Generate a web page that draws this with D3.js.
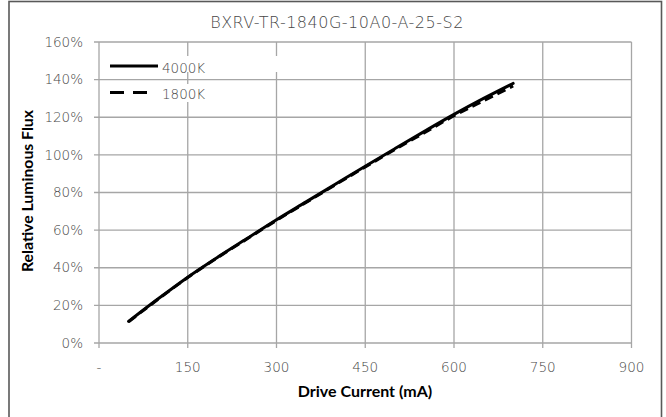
<!DOCTYPE html>
<html><head><meta charset="utf-8">
<script src="https://cdn.jsdelivr.net/npm/d3@7"></script>
<style>body{margin:0;background:#fff}svg{display:block}</style>
</head><body><svg id="c" width="666" height="417"></svg>
<script>
const title = "BXRV-TR-1840G-10A0-A-25-S2";
const current = [50,100,150,200,250,300,350,400,450,500,550,600,650,700];
const flux4000 = [11.5,23.5,35,45.5,55.5,65.5,75,84.5,94,103.3,112.5,121.5,130,138];
const flux1800 = [11.3,23.3,34.8,45.3,55.3,65.2,74.7,84.2,93.6,102.8,111.8,120.8,128.8,136.6];
const xTicks = [0,150,300,450,600,750,900];
const yTicks = [0,20,40,60,80,100,120,140,160];
const seriesNames = ["4000K","1800K"];

const svg = d3.select("#c");
const x = d3.scaleLinear().domain([0,900]).range([99,631.5]);
const y = d3.scaleLinear().domain([0,160]).range([343,42]);
const grid = "#a6a6a6", txt = "#474747";
const tickFont = "'DejaVu Sans', sans-serif";
const tickW = 200;

svg.append("rect").attr("x",9).attr("y",1.5).attr("width",652.5).attr("height",440)
  .attr("fill","#fff").attr("stroke","#595959").attr("stroke-width",1.6);

// gridlines
svg.append("g").selectAll("line").data(yTicks).join("line")
  .attr("x1",x(0)-5).attr("x2",x(900)).attr("y1",d=>y(d)).attr("y2",d=>y(d))
  .attr("stroke",grid).attr("stroke-width",1.3);
svg.append("g").selectAll("line").data(xTicks).join("line")
  .attr("x1",d=>x(d)).attr("x2",d=>x(d)).attr("y1",y(160)).attr("y2",y(0)+5)
  .attr("stroke",grid).attr("stroke-width",1.3);

// tick labels
svg.append("g").selectAll("text").data(yTicks).join("text")
  .attr("x",83).attr("y",d=>y(d)).attr("dy","0.35em").attr("text-anchor","end")
  .attr("font-family",tickFont).attr("font-size",13.5).attr("font-weight",tickW).attr("fill",txt)
  .text(d=>d+"%");
svg.append("g").selectAll("text").data(xTicks).join("text")
  .attr("x",d=>x(d)).attr("y",367).attr("dy","0.35em").attr("text-anchor","middle")
  .attr("font-family",tickFont).attr("font-size",13.5).attr("font-weight",tickW).attr("fill",txt)
  .text(d=>d===0?"-":d);

// title & axis titles
svg.append("text").attr("x",337).attr("y",22).attr("dy","0.35em").attr("text-anchor","middle")
  .attr("font-family",tickFont).attr("font-size",16).attr("font-weight",tickW).attr("letter-spacing",0.5)
  .attr("fill",txt).text(title);
svg.append("text").attr("x",365).attr("y",391).attr("dy","0.35em").attr("text-anchor","middle")
  .attr("font-family","Lato, sans-serif").attr("font-size",16).attr("font-weight",700).attr("fill","#000")
  .text("Drive Current (mA)");
svg.append("text").attr("transform","translate(27,191) rotate(-90)").attr("dy","0.35em").attr("text-anchor","middle")
  .attr("font-family","Lato, sans-serif").attr("font-size",15.8).attr("font-weight",700).attr("fill","#000")
  .text("Relative Luminous Flux");

// lines
const line = d3.line().x((d,i)=>x(current[i])).y(d=>y(d)).curve(d3.curveMonotoneX);
svg.append("path").datum(flux1800).attr("d",line).attr("fill","none").attr("stroke","#000")
  .attr("stroke-width",3).attr("stroke-dasharray","9,5");
svg.append("path").datum(flux4000).attr("d",line).attr("fill","none").attr("stroke","#000")
  .attr("stroke-width",3).attr("stroke-linecap","round");

// legend
svg.append("rect").attr("x",105).attr("y",56).attr("width",177).attr("height",16).attr("fill","#fff");
svg.append("rect").attr("x",105).attr("y",84).attr("width",150).attr("height",18).attr("fill","#fff");
const lg = svg.append("g");
seriesNames.forEach((n,i)=>{
  const yy = 66 + i*26.5;
  lg.append("line").attr("x1",110).attr("x2",i===0?158:149).attr("y1",yy).attr("y2",yy)
    .attr("stroke","#000").attr("stroke-width",3)
    .attr("stroke-dasharray", i===0?null:"14,9");
  lg.append("text").attr("x",162).attr("y",yy+2).attr("dy","0.35em")
    .attr("font-family",tickFont).attr("font-size",13.5).attr("font-weight",tickW).attr("fill",txt).text(n);
});
</script></body></html>
